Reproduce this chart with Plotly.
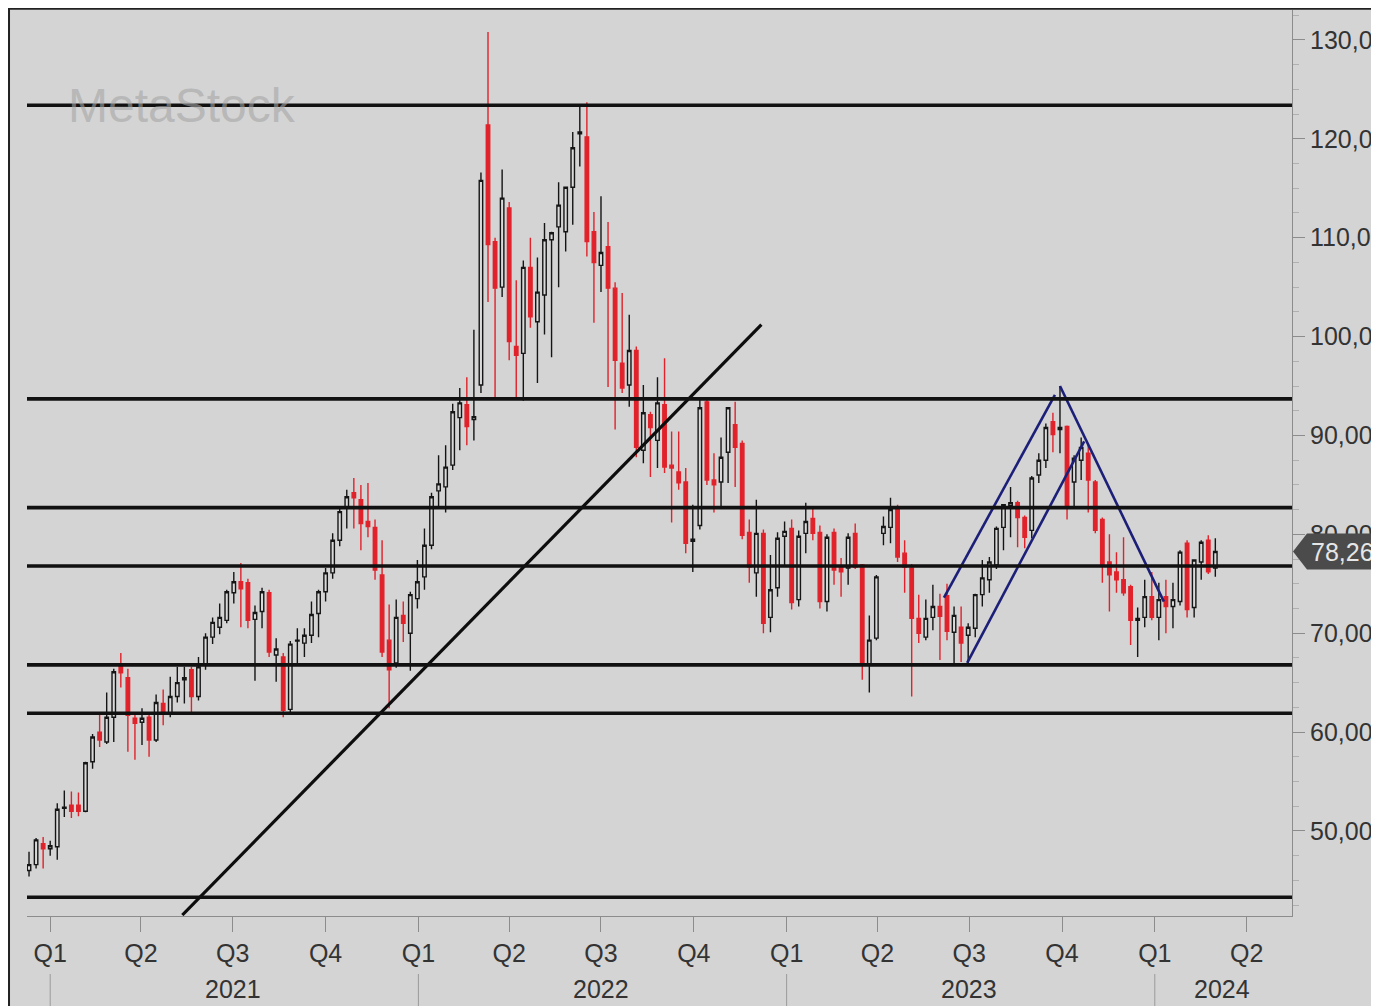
import pandas as pd
import plotly.graph_objects as go

# ---------------- data (weekly candles, Friday dates) ----------------
first_week = "2020-12-11"
opens = [46.0, 46.6, 48.7,
         48.2, 48.4, 52.3, 52.6, 52.6, 52.0, 57.0, 60.0, 59.0, 61.5, 66.8, 65.5, 61.4,
         61.0, 61.5, 59.2, 62.9, 61.9, 63.6, 65.3, 66.3, 63.6, 66.8, 69.6, 70.6, 71.3,
         74.1, 75.2, 75.1, 71.4, 72.2, 74.1, 67.8, 67.6, 62.3, 69.2, 69.0, 69.8, 72.0,
         74.2, 76.1, 79.4, 82.7, 84.2, 83.5, 81.3, 80.7, 75.9, 69.3, 67.0, 71.8, 70.0, 73.5,
         75.7, 78.9, 84.4, 84.8, 87.0, 91.8, 93.1, 91.6, 95.1, 121.4, 109.6, 105.0,
         113.0, 99.0, 98.3, 107.0, 101.5, 104.2, 109.8, 111.1, 110.6, 115.1, 120.5, 120.2, 110.6,
         107.2, 109.1, 104.9, 97.3, 95.1, 98.6, 88.5, 92.1, 89.5, 93.1, 87.0, 86.3, 85.3, 79.3,
         80.9, 93.4, 85.5, 85.3, 88.3, 91.1, 89.2, 80.2, 76.1, 80.1, 71.6, 74.6, 79.8,
         80.6, 73.4, 80.1, 81.6, 80.2, 73.2, 80.2, 76.7, 76.6, 80.1, 76.9, 66.8, 69.5,
         80.1, 80.7, 82.8, 78.1, 76.6, 71.5, 69.6, 71.6, 72.7, 73.8, 70.1, 70.6, 69.8,
         70.5, 73.9, 75.4, 76.9, 80.7, 82.9, 83.2, 81.7, 80.4, 86.0, 87.5, 91.4, 90.6,
         90.9, 85.3, 87.5, 88.2, 85.3, 81.5, 77.2, 76.2, 75.4, 74.7, 71.3, 71.6, 73.7,
         71.6, 73.7, 72.7, 73.2, 79.1, 72.6, 77.2, 79.4, 76.6]
highs = [47.9, 49.3, 49.4,
         49.0, 52.8, 54.1, 54.0, 53.9, 57.0, 59.8, 62.0, 64.0, 66.4, 68.0, 66.4, 62.0,
         62.4, 61.8, 63.8, 64.3, 65.6, 66.6, 66.6, 66.6, 67.6, 70.0, 71.6, 73.0, 74.4,
         76.2, 77.1, 75.5, 72.8, 74.6, 74.4, 69.5, 68.0, 69.2, 70.5, 70.5, 73.2, 74.4,
         76.6, 80.1, 82.6, 84.5, 85.7, 85.0, 85.2, 81.5, 79.4, 72.9, 73.4, 73.2, 74.2, 77.4,
         80.6, 84.2, 88.0, 89.0, 93.2, 94.8, 95.9, 100.7, 116.6, 130.8, 110.0, 116.9,
         113.6, 105.7, 107.7, 110.0, 108.0, 111.5, 110.6, 115.6, 115.1, 120.7, 123.4, 123.7, 112.6,
         114.2, 111.6, 105.5, 104.4, 102.2, 99.0, 95.1, 92.4, 95.9, 97.8, 90.4, 90.4, 86.7, 83.0,
         93.6, 93.6, 88.2, 89.8, 92.8, 93.4, 89.5, 81.5, 83.5, 80.5, 77.9, 80.2, 81.3,
         81.5, 80.4, 83.2, 82.7, 80.9, 80.0, 80.6, 77.6, 80.1, 81.1, 77.0, 71.8, 75.9,
         81.8, 83.7, 83.0, 79.4, 77.0, 73.9, 73.4, 74.9, 74.0, 75.0, 72.7, 72.7, 71.0,
         74.0, 77.4, 77.7, 80.8, 83.0, 84.8, 83.4, 81.9, 85.9, 88.2, 91.2, 92.3, 95.0,
         91.0, 88.0, 89.8, 89.2, 85.5, 81.7, 80.0, 78.2, 79.7, 74.9, 72.6, 75.4, 76.2,
         75.1, 75.4, 75.1, 78.4, 79.4, 77.4, 79.4, 79.9, 79.6]
lows = [45.4, 46.2, 46.2,
        47.5, 47.1, 51.4, 51.3, 51.5, 51.9, 56.3, 58.5, 58.8, 59.0, 64.5, 58.0, 57.2,
        58.7, 57.5, 59.0, 60.7, 61.5, 63.0, 62.9, 61.9, 63.2, 66.3, 68.9, 69.9, 71.0,
        73.0, 70.6, 70.5, 65.2, 70.5, 67.6, 65.1, 61.5, 61.9, 67.0, 67.6, 69.0, 69.6,
        73.2, 75.5, 78.8, 80.6, 80.6, 78.4, 79.7, 75.4, 67.6, 62.4, 66.5, 69.1, 66.2, 72.5,
        74.4, 78.5, 82.8, 82.2, 86.5, 88.5, 89.0, 89.5, 94.3, 103.5, 93.6, 104.0,
        97.6, 93.9, 93.5, 100.9, 95.3, 100.2, 97.9, 105.0, 108.6, 111.3, 117.2, 108.1, 101.4,
        104.5, 94.9, 90.6, 94.3, 92.9, 87.8, 87.2, 85.8, 86.7, 86.2, 81.2, 84.5, 78.1, 76.2,
        80.5, 85.0, 82.2, 82.7, 85.2, 84.8, 79.5, 75.1, 73.7, 70.0, 70.1, 73.7, 76.7,
        72.4, 72.7, 78.1, 79.4, 72.5, 72.2, 74.9, 73.7, 74.9, 76.5, 65.3, 64.0, 69.3,
        78.9, 79.1, 77.2, 74.1, 63.6, 69.0, 69.3, 70.3, 67.3, 69.3, 67.0, 67.1, 67.0,
        69.6, 72.7, 74.1, 76.5, 78.4, 79.7, 78.7, 78.6, 79.6, 85.2, 86.7, 88.3, 88.2,
        81.5, 82.8, 85.5, 82.2, 80.1, 75.1, 72.2, 74.1, 73.8, 68.8, 67.6, 70.6, 71.3,
        69.3, 70.0, 70.5, 72.8, 71.6, 71.6, 75.4, 76.0, 75.7]
closes = [46.6, 49.1, 48.2,
          48.5, 52.2, 52.4, 52.0, 52.0, 56.9, 59.5, 59.2, 61.5, 66.1, 66.0, 61.7, 60.9,
          61.4, 59.2, 63.0, 61.9, 63.6, 65.0, 65.5, 63.6, 66.6, 69.6, 71.1, 71.6, 74.2,
          75.2, 74.5, 71.3, 72.1, 74.2, 68.1, 68.4, 62.2, 68.9, 69.3, 69.8, 71.9, 74.2,
          76.1, 79.4, 82.3, 83.8, 83.7, 81.1, 80.8, 76.4, 68.1, 66.3, 71.6, 71.0, 73.9, 75.2,
          78.9, 83.8, 85.1, 86.8, 92.4, 93.3, 90.9, 91.9, 115.8, 109.3, 104.9, 114.0,
          99.5, 98.1, 107.0, 102.0, 104.5, 109.8, 110.5, 113.3, 115.1, 119.1, 120.7, 109.6, 107.5,
          108.5, 104.9, 97.6, 94.8, 98.6, 88.8, 92.3, 90.8, 93.3, 86.8, 86.7, 85.2, 79.1, 79.5,
          92.8, 85.5, 85.0, 87.8, 92.8, 88.8, 79.9, 76.7, 80.1, 71.0, 74.4, 79.6, 80.3,
          73.1, 79.8, 81.3, 80.1, 73.2, 79.7, 76.4, 76.2, 79.7, 76.7, 67.0, 69.3, 75.7,
          80.8, 82.5, 77.7, 76.7, 71.5, 70.0, 71.5, 72.7, 71.7, 70.2, 71.8, 69.0, 70.6,
          73.9, 75.6, 77.2, 80.6, 83.0, 83.2, 81.7, 79.7, 85.7, 87.5, 90.8, 90.1, 90.8,
          82.7, 87.7, 88.8, 85.5, 80.4, 76.9, 75.9, 75.4, 74.1, 71.3, 71.5, 73.7, 71.6,
          73.4, 72.7, 73.4, 78.2, 72.4, 77.4, 79.2, 76.2, 78.26]

weeks = pd.date_range(first_week, periods=len(closes), freq="W-FRI")

# drawn studies
level_prices = [123.4, 93.7, 82.7, 76.8, 66.8, 61.9, 43.3]
trend_dates = ["2021-05-12", "2022-12-07"]
trend_prices = [41.5, 101.2]
channel_up_dates = ["2023-06-06", "2023-09-24"]
channel_up_prices = [73.6, 94.1]
channel_low_dates = ["2023-06-29", "2023-10-23"]
channel_low_prices = [67.0, 89.4]
down_leg_dates = ["2023-09-29", "2024-01-10"]
down_leg_prices = [95.0, 73.2]

# axes
x_range = ["2020-12-09", "2024-05-16"]
y_range = [41.4, 133.03]
quarter_dates = [f"{y}-{m:02d}-01" for y in (2021, 2022, 2023, 2024) for m in (1, 4, 7, 10)][:14]
quarter_labels = ["Q1", "Q2", "Q3", "Q4"] * 3 + ["Q1", "Q2"]
year_labels = ["2021", "2022", "2023", "2024"]
year_label_dates = ["2021-07-01", "2022-07-01", "2023-07-01", "2024-03-08"]
year_starts = ["2021-01-01", "2022-01-01", "2023-01-01", "2024-01-01"]
price_ticks = [50, 60, 70, 80, 90, 100, 110, 120, 130]
price_tick_text = [f"{v},000" for v in price_ticks]
last_price = closes[-1]

BG = "#d4d4d4"
FONT = "Liberation Sans, Arial, sans-serif"
W, H = 1363, 998
ML, MR, MT, MB = 19, 79, 2, 90
PW, PH = W - ML - MR, H - MT - MB

fig = go.Figure()
fig.add_trace(go.Candlestick(
    x=weeks, open=opens, high=highs, low=lows, close=closes,
    increasing=dict(line=dict(color="#151515", width=1.4), fillcolor="#dadada"),
    decreasing=dict(line=dict(color="#e1222b", width=1.4), fillcolor="#e1222b"),
    whiskerwidth=0, hoverinfo="skip", showlegend=False,
))

for d, p, c, w in [(trend_dates, trend_prices, "#0d0d0d", 3.2),
                   (channel_up_dates, channel_up_prices, "#1c1f78", 2.6),
                   (channel_low_dates, channel_low_prices, "#1c1f78", 2.6),
                   (down_leg_dates, down_leg_prices, "#1c1f78", 2.6)]:
    fig.add_trace(go.Scatter(x=d, y=p, mode="lines", line=dict(color=c, width=w),
                             hoverinfo="skip", showlegend=False))

shapes = []
for lv in level_prices:
    shapes.append(dict(type="line", xref="paper", yref="y", x0=0, x1=1, y0=lv, y1=lv,
                       line=dict(color="#111111", width=3.6), layer="above"))
for ys in year_starts:
    shapes.append(dict(type="line", xref="x", yref="paper", x0=ys, x1=ys,
                       y0=-58 / PH, y1=-MB / PH, line=dict(color="#9a9a9a", width=1)))
# frame lines (left / top of the chart window)
shapes.append(dict(type="line", xref="paper", yref="paper", x0=-ML / PW + 0.0008, x1=-ML / PW + 0.0008,
                   y0=-MB / PH, y1=1 + MT / PH, line=dict(color="#222222", width=2)))
shapes.append(dict(type="line", xref="paper", yref="paper", x0=-ML / PW, x1=(W - ML) / PW,
                   y0=1 + MT / PH - 0.0008, y1=1 + MT / PH - 0.0008, line=dict(color="#222222", width=2)))
# last price tag
tip_x = 1 + 1 / PW
body_x = 1 + 15 / PW
end_x = 1 + (MR + 20) / PW
half = 18 / (PH / (y_range[1] - y_range[0]))
shapes.append(dict(type="path", xref="paper", yref="y",
                   path=(f"M {tip_x},{last_price} L {body_x},{last_price + half} "
                         f"L {end_x},{last_price + half} L {end_x},{last_price - half} "
                         f"L {body_x},{last_price - half} Z"),
                   fillcolor="#4b4b4b", line=dict(width=0), layer="above"))

annotations = []
for lbl, d in zip(year_labels, year_label_dates):
    annotations.append(dict(text=lbl, x=d, xref="x", y=-73 / PH, yref="paper",
                            yanchor="middle", xanchor="center", showarrow=False,
                            font=dict(family=FONT, size=25, color="#333333")))
annotations.append(dict(text=f"{last_price:.2f}".replace(".", ",") + "0", x=body_x + 2 / PW, xref="paper",
                        y=last_price, yref="y", xanchor="left", yanchor="middle", showarrow=False,
                        font=dict(family=FONT, size=25, color="#e6e6e6")))
annotations.append(dict(text="MetaStock", x=(66 - 27) / PW, xref="paper", y=(916 - 106) / PH, yref="paper",
                        xanchor="left", yanchor="middle", showarrow=False,
                        font=dict(family="Liberation Sans, Arial", size=48, color="rgba(165,165,165,0.6)")))

fig.update_layout(
    width=W, height=H,
    margin=dict(l=ML, r=MR, t=MT, b=MB, pad=0, autoexpand=False),
    paper_bgcolor=BG, plot_bgcolor=BG,
    font=dict(family=FONT, color="#333333"),
    shapes=shapes, annotations=annotations,
    showlegend=False, hovermode=False,
    xaxis=dict(range=x_range, type="date", rangeslider=dict(visible=False), automargin=False,
               tickmode="array", tickvals=quarter_dates, ticktext=quarter_labels,
               ticks="outside", ticklen=15, tickcolor="#8c8c8c", tickwidth=1,
               showline=True, linecolor="#8c8c8c", linewidth=1,
               showgrid=False, zeroline=False,
               tickfont=dict(family=FONT, size=25, color="#333333")),
    yaxis=dict(range=y_range, side="right", tickmode="array", tickvals=price_ticks, automargin=False,
               ticktext=price_tick_text, ticks="outside", ticklen=12, tickcolor="#8c8c8c",
               showline=True, linecolor="#8c8c8c", linewidth=1, showgrid=False, zeroline=False,
               tickfont=dict(family=FONT, size=25, color="#333333"),
               minor=dict(ticks="outside", ticklen=6, tickcolor="#b0b0b0", dtick=2.5)),
)

fig.write_html("out.html", config={"displayModeBar": False},
               post_script="document.body.style.overflow='hidden';")
